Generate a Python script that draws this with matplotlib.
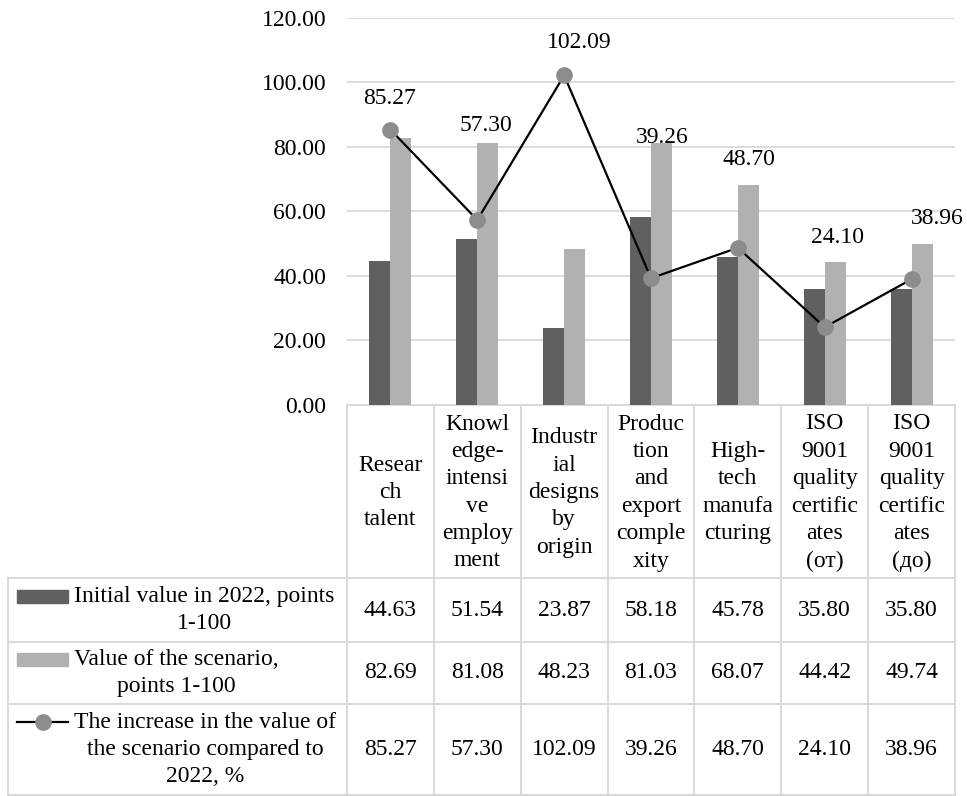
import numpy as np
import matplotlib
matplotlib.use("Agg")
import matplotlib.pyplot as plt
from matplotlib.patches import Rectangle

plt.rcParams['font.family'] = ['Liberation Serif', 'DejaVu Serif']

categories = ["Resear\nch\ntalent",
              "Knowl\nedge-\nintensi\nve\nemploy\nment",
              "Industr\nial\ndesigns\nby\norigin",
              "Produc\ntion\nand\nexport\ncomple\nxity",
              "High-\ntech\nmanufa\ncturing",
              "ISO\n9001\nquality\ncertific\nates\n(от)",
              "ISO\n9001\nquality\ncertific\nates\n(до)"]
initial_2022 = [44.63, 51.54, 23.87, 58.18, 45.78, 35.80, 35.80]
scenario = [82.69, 81.08, 48.23, 81.03, 68.07, 44.42, 49.74]
increase = [85.27, 57.30, 102.09, 39.26, 48.70, 24.10, 38.96]
series_names = ["Initial value in 2022, points\n1-100",
                "Value of the scenario,\npoints 1-100",
                "The increase in the value of\nthe scenario compared to\n2022, %"]

# where excel left the line labels (dx in categories, y in axis units)
label_dx = [-0.01, 0.10, 0.17, 0.13, 0.13, 0.15, 0.29]
label_y = [94.8, 86.7, 112.4, 82.7, 75.9, 52.0, 57.9]

dark = '#606060'
light = '#b1b1b1'
mark = '#8c8c8c'
grid = '#d9d9d9'
fs = 17

W, H = 967, 796
fig = plt.figure(figsize=(W / 100, H / 100), dpi=100)

# plot area in pixels
left, right, top, bottom = 347, 955, 17.5, 405
ax = fig.add_axes([left / W, 1 - bottom / H, (right - left) / W, (bottom - top) / H])
ax.set_zorder(2)
ax.patch.set_alpha(0)

n = len(categories)
x = np.arange(n)
bw = 0.242
ax.bar(x - bw / 2, initial_2022, bw, color=dark, zorder=2)
ax.bar(x + bw / 2, scenario, bw, color=light, zorder=2)
ax.plot(x, increase, color='black', lw=1.6, marker='o', ms=11,
        mfc=mark, mec=mark, zorder=3)
for i in range(n):
    ax.text(x[i] + label_dx[i], label_y[i], f"{increase[i]:.2f}",
            ha='center', va='center', fontsize=fs)

ax.set_xlim(-0.5, n - 0.5)
ax.set_ylim(0, 120)
ax.set_yticks(np.arange(0, 121, 20))
ax.set_yticklabels([f"{v:.2f}" for v in np.arange(0, 121, 20)], fontsize=fs)
ax.tick_params(axis='y', length=0, pad=15)
ax.set_xticks([])
for s in ax.spines.values():
    s.set_visible(False)
ax.grid(axis='y', color=grid, lw=1.3, zorder=0)

# data table drawn in pixel coords
tb = fig.add_axes([0, 0, 1, 1])
tb.set_zorder(1)
tb.set_xlim(0, W)
tb.set_ylim(H, 0)
tb.axis('off')

col_w = (right - left) / n
rows = [405, 578, 642, 704, 795]
leg_left = 8
lc = dict(color=grid, lw=1.4)

tb.plot([left, right], [rows[0], rows[0]], **lc)
for r in rows[1:]:
    tb.plot([leg_left, right], [r, r], **lc)
for j in range(n + 1):
    xx = left + j * col_w
    tb.plot([xx, xx], [rows[0], rows[-1]], **lc)
tb.plot([leg_left, leg_left], [rows[1], rows[-1]], **lc)

ls = 1.4
for j in range(n):
    cx = left + (j + 0.5) * col_w
    tb.text(cx, (rows[0] + rows[1]) / 2 + 1, categories[j], ha='center', va='center',
            fontsize=fs, linespacing=ls)

table_vals = [initial_2022, scenario, increase]
line_px = 27.3
for r in range(3):
    cy = (rows[r + 1] + rows[r + 2]) / 2
    nl = series_names[r].count('\n') + 1
    first = cy - (nl - 1) / 2 * line_px
    tb.text(74, cy, series_names[r], ha='left', va='center', fontsize=fs,
            linespacing=ls, multialignment='center')
    if r < 2:
        tb.add_patch(Rectangle((17, first - 6.5), 51, 13,
                               color=[dark, light][r]))
    else:
        tb.plot([17, 68], [first, first], color='black', lw=1.6)
        tb.plot([42.5], [first], marker='o', ms=11, mfc=mark, mec=mark)
    for j in range(n):
        cx = left + (j + 0.5) * col_w
        tb.text(cx, cy, f"{table_vals[r][j]:.2f}", ha='center', va='center',
                fontsize=fs)

fig.savefig("out.png", dpi=100)
